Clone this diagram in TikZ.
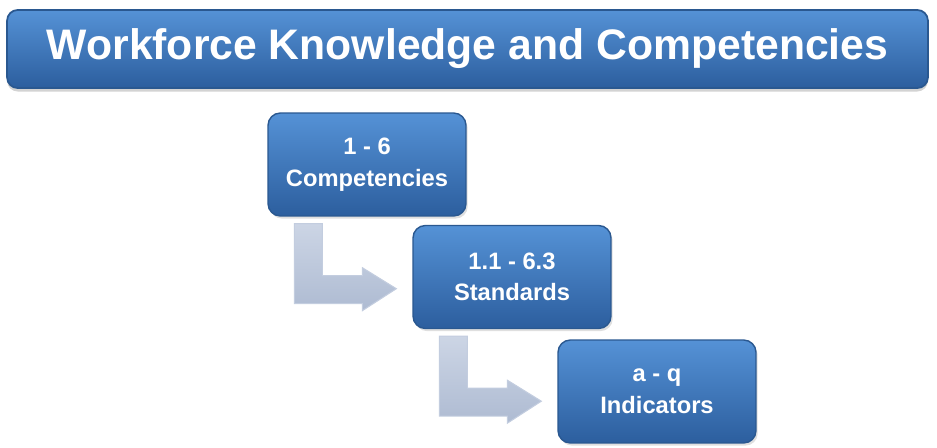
\documentclass[tikz,border=0pt]{standalone}
\usepackage{fontspec}
\setmainfont{Liberation Sans}
\usepackage{xcolor}
\usetikzlibrary{shadows}

\definecolor{bartop}{HTML}{5592D6}
\definecolor{barmid}{HTML}{3D7AC4}
\definecolor{barbot}{HTML}{2C5E9E}
\definecolor{barline}{HTML}{2A5890}
\definecolor{arrowtop}{HTML}{CCD5E5}
\definecolor{arrowbot}{HTML}{AEBBD2}
\definecolor{arrowline}{HTML}{C3CDDF}

\tikzset{
  titlebar/.style={rounded corners=6pt, draw=barline, line width=1pt,
    top color=bartop, middle color=barmid, bottom color=barbot,
    minimum width=18.42cm, minimum height=1.56cm, text=white,
    font=\fontsize{24.3}{28}\selectfont\bfseries,
    drop shadow={opacity=0.35, shadow xshift=0pt, shadow yshift=-2pt}},
  levelbox/.style={rounded corners=7pt, draw=barline, line width=0.8pt,
    top color=bartop, middle color=barmid, bottom color=barbot,
    minimum width=3.96cm, minimum height=2.06cm, text=white, align=center,
    font=\fontsize{13.5}{18}\selectfont\bfseries,
    drop shadow={opacity=0.25, shadow xshift=1pt, shadow yshift=-1.5pt}},
  bentshade/.style={top color=arrowtop, bottom color=arrowbot, draw=arrowline, line width=0.6pt}
}

% bent block arrow hanging below a box (pixel units, y downwards)
\newcommand{\bentarrow}[1]{%
  \shade[bentshade, shift={(#1.south west)}]
    (27,7) -- (55,7) -- (55,59) -- (95,59) -- (95,51) -- (129,72)
    -- (95,94) -- (95,87) -- (27,87) -- cycle;}

\begin{document}
\begin{tikzpicture}[x=0.02cm, y=-0.02cm]
    \useasboundingbox (0,0) rectangle (937,447);
    \node[titlebar] (title) at (467.5,49) {Workforce Knowledge and Competencies};
    \node[levelbox] (comp) at (367,164.5) {1 - 6\\Competencies};
    \node[levelbox] (std) at (512,277) {1.1 - 6.3\\Standards};
    \node[levelbox] (ind) at (657,391.5) {a - q\\Indicators};
    \bentarrow{comp}
    \bentarrow{std}
\end{tikzpicture}
\end{document}
